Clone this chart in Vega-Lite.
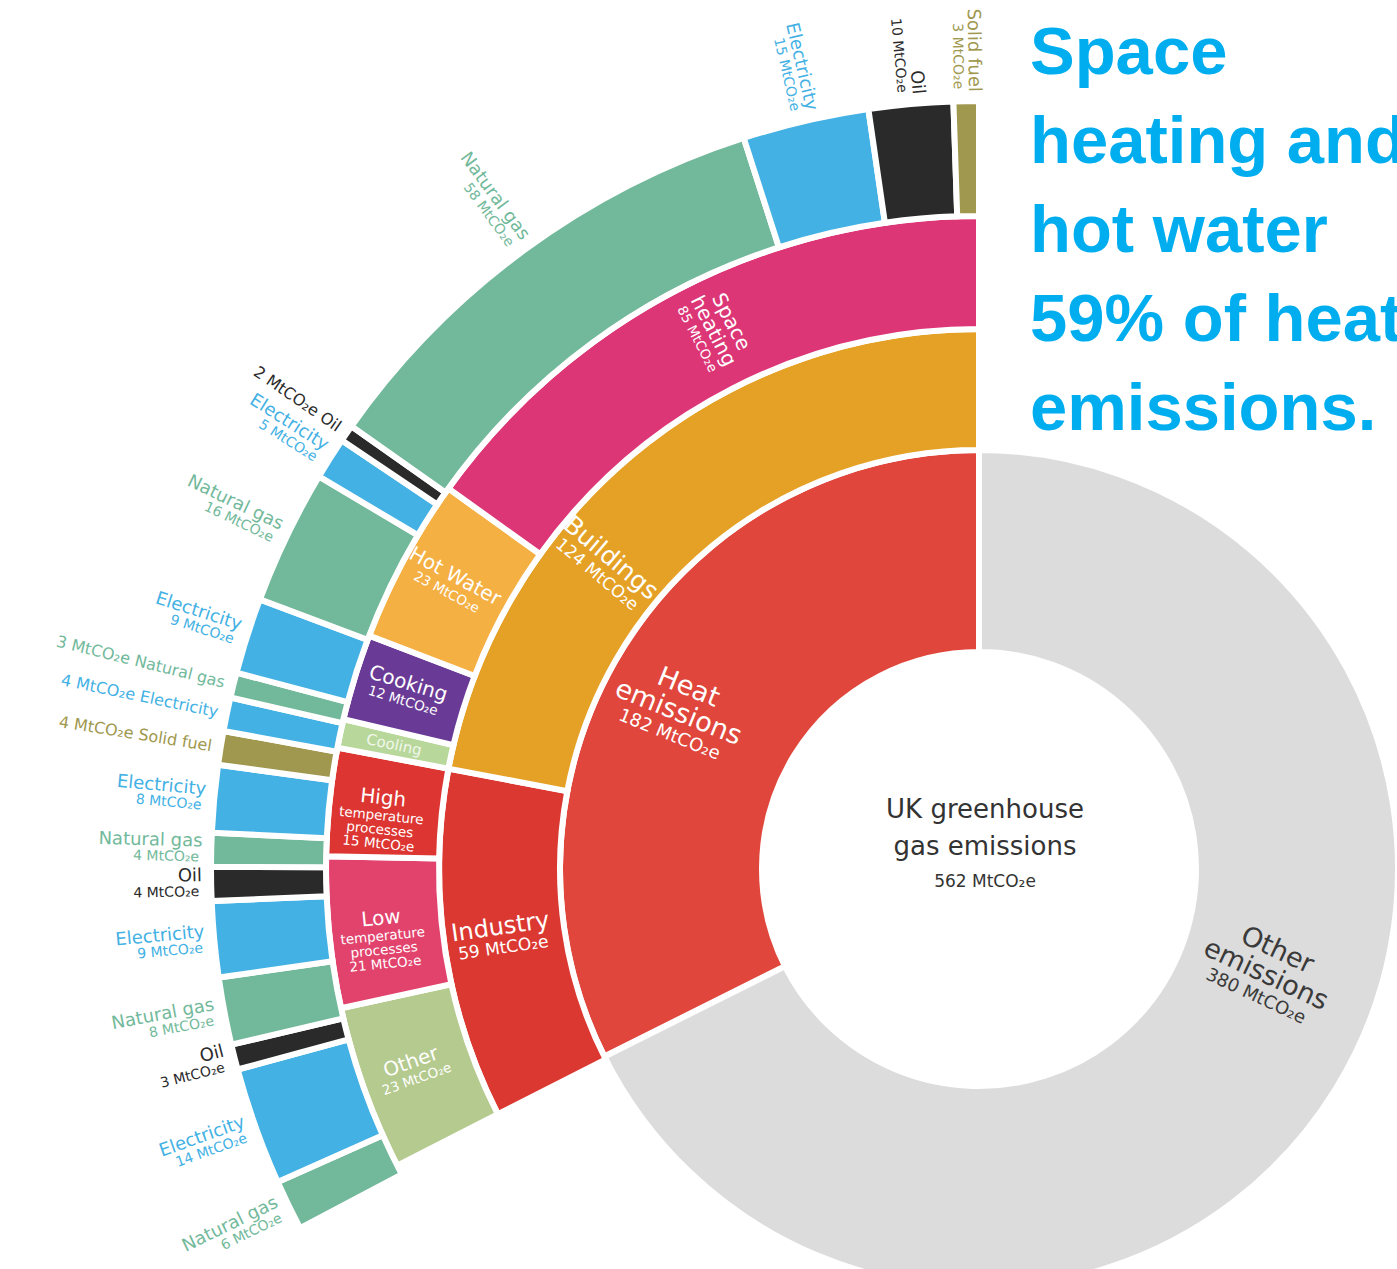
{
  "$schema": "https://vega.github.io/schema/vega-lite/v6.json",
  "width": 836,
  "height": 800,
  "autosize": {"type": "none"},
  "padding": {"left": 561, "top": 469, "right": 0, "bottom": 0},
  "background": "white",
  "config": {"view": {"stroke": null}, "text": {"font": "DejaVu Sans"}},
  "title": {
    "text": ["Space", "heating and", "hot water", "59% of heat", "emissions."],
    "orient": "top",
    "anchor": "start",
    "frame": "group",
    "align": "left",
    "baseline": "alphabetic",
    "font": "Liberation Sans",
    "fontSize": 67,
    "fontWeight": "bold",
    "color": "#00aeef",
    "lineHeight": 89,
    "offset": 0,
    "dx": 469,
    "dy": 489
  },
  "datasets": {
    "emissions": [
      {"ring": 1, "use": "", "name": "Other emissions", "v": 380, "top": "Other\nemissions", "sub": "380 MtCO₂e"},
      {"ring": 1, "use": "", "name": "Heat emissions", "v": 182, "top": "Heat\nemissions", "sub": "182 MtCO₂e"},
      {"ring": 2, "use": "Heat emissions", "name": "Industry", "v": 59, "top": "Industry", "sub": "59 MtCO₂e"},
      {"ring": 2, "use": "Heat emissions", "name": "Buildings", "v": 124, "top": "Buildings", "sub": "124 MtCO₂e"},
      {"ring": 3, "use": "Industry", "name": "Other", "v": 23, "top": "Other", "sub": "23 MtCO₂e"},
      {"ring": 3, "use": "Industry", "name": "Low temperature processes", "v": 21, "top": "Low", "sub": "temperature\nprocesses\n21 MtCO₂e"},
      {"ring": 3, "use": "Industry", "name": "High temperature processes", "v": 15, "top": "High", "sub": "temperature\nprocesses\n15 MtCO₂e"},
      {"ring": 3, "use": "Buildings", "name": "Cooling", "v": 4, "top": "Cooling", "sub": ""},
      {"ring": 3, "use": "Buildings", "name": "Cooking", "v": 12, "top": "Cooking", "sub": "12 MtCO₂e"},
      {"ring": 3, "use": "Buildings", "name": "Hot Water", "v": 23, "top": "Hot Water", "sub": "23 MtCO₂e"},
      {"ring": 3, "use": "Buildings", "name": "Space heating", "v": 85, "top": "Space\nheating", "sub": "85 MtCO₂e"},
      {"ring": 4, "use": "Other", "name": "Natural gas", "v": 6, "top": "Natural gas", "sub": "6 MtCO₂e"},
      {"ring": 4, "use": "Other", "name": "Electricity", "v": 14, "top": "Electricity", "sub": "14 MtCO₂e"},
      {"ring": 4, "use": "Other", "name": "Oil", "v": 3, "top": "Oil", "sub": "3 MtCO₂e"},
      {"ring": 4, "use": "Low temperature processes", "name": "Natural gas", "v": 8, "top": "Natural gas", "sub": "8 MtCO₂e"},
      {"ring": 4, "use": "Low temperature processes", "name": "Electricity", "v": 9, "top": "Electricity", "sub": "9 MtCO₂e"},
      {"ring": 4, "use": "Low temperature processes", "name": "Oil", "v": 4, "top": "Oil", "sub": "4 MtCO₂e"},
      {"ring": 4, "use": "High temperature processes", "name": "Natural gas", "v": 4, "top": "Natural gas", "sub": "4 MtCO₂e"},
      {"ring": 4, "use": "High temperature processes", "name": "Electricity", "v": 8, "top": "Electricity", "sub": "8 MtCO₂e"},
      {"ring": 4, "use": "High temperature processes", "name": "Solid fuel", "v": 4, "top": "4 MtCO₂e  Solid fuel", "sub": ""},
      {"ring": 4, "use": "Cooling", "name": "Electricity", "v": 4, "top": "4 MtCO₂e  Electricity", "sub": ""},
      {"ring": 4, "use": "Cooking", "name": "Natural gas", "v": 3, "top": "3 MtCO₂e  Natural gas", "sub": ""},
      {"ring": 4, "use": "Cooking", "name": "Electricity", "v": 9, "top": "Electricity", "sub": "9 MtCO₂e"},
      {"ring": 4, "use": "Hot Water", "name": "Natural gas", "v": 16, "top": "Natural gas", "sub": "16 MtCO₂e"},
      {"ring": 4, "use": "Hot Water", "name": "Electricity", "v": 5, "top": "Electricity", "sub": "5 MtCO₂e"},
      {"ring": 4, "use": "Hot Water", "name": "Oil", "v": 2, "top": "2 MtCO₂e  Oil", "sub": ""},
      {"ring": 4, "use": "Space heating", "name": "Natural gas", "v": 58, "top": "Natural gas", "sub": "58 MtCO₂e"},
      {"ring": 4, "use": "Space heating", "name": "Electricity", "v": 15, "top": "Electricity", "sub": "15 MtCO₂e"},
      {"ring": 4, "use": "Space heating", "name": "Oil", "v": 10, "top": "Oil", "sub": "10 MtCO₂e"},
      {"ring": 4, "use": "Space heating", "name": "Solid fuel", "v": 3, "top": "Solid fuel", "sub": "3 MtCO₂e"}
    ]
  },
  "data": {"name": "emissions"},
  "resolve": {"scale": {"theta": "independent", "angle": "independent"}},
  "layer": [
    {
      "transform": [
        {"filter": "datum.ring === 1"},
        {"window": [{"op": "row_number", "as": "k"}]},
        {"stack": "v", "groupby": [], "sort": [{"field": "k", "order": "ascending"}], "as": ["s0", "s1"]},
        {"calculate": "(datum.s0 + datum.s1) / 2", "as": "mid"}
      ],
      "layer": [
        {
          "mark": {"type": "arc", "innerRadius": 217, "outerRadius": 419, "stroke": "white", "strokeWidth": 6},
          "encoding": {
            "theta": {"field": "s0", "type": "quantitative", "stack": null, "scale": {"domain": [0, 562]}},
            "theta2": {"field": "s1"},
            "color": {
              "field": "name", "type": "nominal", "legend": null,
              "scale": {
                "domain": ["Other emissions", "Heat emissions", "Buildings", "Industry", "Space heating", "Hot Water", "Cooking", "Cooling", "High temperature processes", "Low temperature processes", "Other", "Natural gas", "Electricity", "Oil", "Solid fuel"],
                "range": ["#dcdcdc", "#e0463b", "#e5a125", "#dc3832", "#dd3677", "#f5b043", "#6a3b96", "#b8d79b", "#dd3632", "#e2436d", "#b4ca8e", "#72b99b", "#43b1e4", "#2a2a2a", "#a0984e"]
              }
            }
          }
        },
        {
          "transform": [{"filter": "datum.name === 'Heat emissions'"}],
          "layer": [
            {
              "mark": {"type": "text", "radius": 338, "thetaOffset": -0.11, "angle": 22, "align": "center", "baseline": "bottom", "fontSize": 27, "lineHeight": 27, "lineBreak": "\n", "color": "white", "dy": -25},
              "encoding": {"theta": {"field": "mid", "type": "quantitative", "stack": null, "scale": {"domain": [0, 562]}}, "text": {"field": "top"}}
            },
            {
              "mark": {"type": "text", "radius": 338, "thetaOffset": -0.11, "angle": 22, "align": "center", "baseline": "top", "fontSize": 18, "dy": 3, "color": "white"},
              "encoding": {"theta": {"field": "mid", "type": "quantitative", "stack": null, "scale": {"domain": [0, 562]}}, "text": {"field": "sub"}}
            }
          ]
        },
        {
          "transform": [{"filter": "datum.name === 'Other emissions'"}],
          "layer": [
            {
              "mark": {"type": "text", "radius": 305, "thetaOffset": -0.16, "angle": 25, "align": "center", "baseline": "bottom", "fontSize": 27, "lineHeight": 27, "lineBreak": "\n", "color": "#3a3a3a", "dy": -25},
              "encoding": {"theta": {"field": "mid", "type": "quantitative", "stack": null, "scale": {"domain": [0, 562]}}, "text": {"field": "top"}}
            },
            {
              "mark": {"type": "text", "radius": 305, "thetaOffset": -0.16, "angle": 25, "align": "center", "baseline": "top", "fontSize": 18, "dy": 3, "color": "#3a3a3a"},
              "encoding": {"theta": {"field": "mid", "type": "quantitative", "stack": null, "scale": {"domain": [0, 562]}}, "text": {"field": "sub"}}
            }
          ]
        },
        {
          "transform": [
            {"aggregate": [{"op": "sum", "field": "v", "as": "total"}]},
            {"calculate": "format(datum.total, 'd') + ' MtCO₂e'", "as": "lbl"}
          ],
          "layer": [
            {
              "mark": {"type": "text", "radius": 0, "align": "center", "baseline": "bottom", "fontSize": 26, "lineHeight": 37, "color": "#333333", "dy": -46, "dx": 6},
              "encoding": {"theta": {"value": 0}, "text": {"value": ["UK greenhouse", "gas emissions"]}}
            },
            {
              "mark": {"type": "text", "radius": 0, "align": "center", "baseline": "top", "fontSize": 17, "color": "#333333", "dy": 5, "dx": 6},
              "encoding": {"theta": {"value": 0}, "text": {"field": "lbl"}}
            }
          ]
        }
      ]
    },
    {
      "transform": [
        {"filter": "datum.ring === 2"},
        {"window": [{"op": "row_number", "as": "k"}]},
        {"stack": "v", "groupby": [], "sort": [{"field": "k", "order": "ascending"}], "as": ["s0", "s1"]},
        {"calculate": "(datum.s0 + datum.s1) / 2", "as": "mid"}
      ],
      "layer": [
        {
          "mark": {"type": "arc", "innerRadius": 419, "outerRadius": 540, "stroke": "white", "strokeWidth": 6},
          "encoding": {
            "theta": {"field": "s0", "type": "quantitative", "stack": null, "scale": {"domain": [-380, 183]}},
            "theta2": {"field": "s1"},
            "color": {"field": "name", "type": "nominal", "legend": null}
          }
        },
        {
          "transform": [{"filter": "datum.name === 'Industry'"}],
          "layer": [
            {
              "mark": {"type": "text", "radius": 482, "align": "center", "baseline": "bottom", "fontSize": 24, "color": "white", "dy": 2},
              "encoding": {
                "theta": {"field": "mid", "type": "quantitative", "stack": null, "scale": {"domain": [-380, 183]}},
                "angle": {"field": "mid", "type": "quantitative", "scale": {"domain": [-380, 183], "range": [-270, 90]}},
                "text": {"field": "top"}
              }
            },
            {
              "mark": {"type": "text", "radius": 482, "align": "center", "baseline": "top", "fontSize": 17, "color": "white", "dy": 3},
              "encoding": {
                "theta": {"field": "mid", "type": "quantitative", "stack": null, "scale": {"domain": [-380, 183]}},
                "angle": {"field": "mid", "type": "quantitative", "scale": {"domain": [-380, 183], "range": [-270, 90]}},
                "text": {"field": "sub"}
              }
            }
          ]
        },
        {
          "transform": [{"filter": "datum.name === 'Buildings'"}],
          "layer": [
            {
              "mark": {"type": "text", "radius": 482, "thetaOffset": -0.2, "angle": 40, "align": "center", "baseline": "bottom", "fontSize": 25, "color": "white", "dy": 2},
              "encoding": {"theta": {"field": "mid", "type": "quantitative", "stack": null, "scale": {"domain": [-380, 183]}}, "text": {"field": "top"}}
            },
            {
              "mark": {"type": "text", "radius": 482, "thetaOffset": -0.2, "angle": 40, "align": "center", "baseline": "top", "fontSize": 17, "color": "white", "dy": 3},
              "encoding": {"theta": {"field": "mid", "type": "quantitative", "stack": null, "scale": {"domain": [-380, 183]}}, "text": {"field": "sub"}}
            }
          ]
        }
      ]
    },
    {
      "transform": [
        {"filter": "datum.ring === 3"},
        {"window": [{"op": "row_number", "as": "k"}]},
        {"stack": "v", "groupby": [], "sort": [{"field": "k", "order": "ascending"}], "as": ["s0", "s1"]},
        {"calculate": "(datum.s0 + datum.s1) / 2", "as": "mid"}
      ],
      "layer": [
        {
          "mark": {"type": "arc", "innerRadius": 540, "outerRadius": 653, "stroke": "white", "strokeWidth": 6},
          "encoding": {
            "theta": {"field": "s0", "type": "quantitative", "stack": null, "scale": {"domain": [-380, 183]}},
            "theta2": {"field": "s1"},
            "color": {"field": "name", "type": "nominal", "legend": null}
          }
        },
        {
          "transform": [{"filter": "datum.sub !== '' && indexof(datum.top, '\\n') < 0"}],
          "mark": {"type": "text", "radius": 600, "align": "center", "baseline": "bottom", "fontSize": 20, "color": "white", "dy": 1},
          "encoding": {
            "theta": {"field": "mid", "type": "quantitative", "stack": null, "scale": {"domain": [-380, 183]}},
            "angle": {"field": "mid", "type": "quantitative", "scale": {"domain": [-380, 183], "range": [-270, 90]}},
            "text": {"field": "top"}
          }
        },
        {
          "transform": [{"filter": "indexof(datum.top, '\\n') >= 0"}],
          "mark": {"type": "text", "radius": 600, "align": "center", "baseline": "bottom", "fontSize": 20, "lineHeight": 20, "lineBreak": "\n", "color": "white", "dy": -19},
          "encoding": {
            "theta": {"field": "mid", "type": "quantitative", "stack": null, "scale": {"domain": [-380, 183]}},
            "angle": {"field": "mid", "type": "quantitative", "scale": {"domain": [-380, 183], "range": [-270, 90]}},
            "text": {"field": "top"}
          }
        },
        {
          "transform": [{"filter": "datum.sub !== ''"}],
          "mark": {"type": "text", "radius": 600, "align": "center", "baseline": "top", "fontSize": 13.5, "lineHeight": 14, "lineBreak": "\n", "color": "white", "dy": 2},
          "encoding": {
            "theta": {"field": "mid", "type": "quantitative", "stack": null, "scale": {"domain": [-380, 183]}},
            "angle": {"field": "mid", "type": "quantitative", "scale": {"domain": [-380, 183], "range": [-270, 90]}},
            "text": {"field": "sub"}
          }
        },
        {
          "transform": [{"filter": "datum.sub === ''"}],
          "mark": {"type": "text", "radius": 598, "align": "center", "baseline": "middle", "fontSize": 15, "color": "#f2f7ec"},
          "encoding": {
            "theta": {"field": "mid", "type": "quantitative", "stack": null, "scale": {"domain": [-380, 183]}},
            "angle": {"field": "mid", "type": "quantitative", "scale": {"domain": [-380, 183], "range": [-270, 90]}},
            "text": {"field": "top"}
          }
        }
      ]
    },
    {
      "transform": [
        {"filter": "datum.ring === 4"},
        {"window": [{"op": "row_number", "as": "k"}]},
        {"stack": "v", "groupby": [], "sort": [{"field": "k", "order": "ascending"}], "as": ["s0", "s1"]},
        {"calculate": "(datum.s0 + datum.s1) / 2", "as": "mid"}
      ],
      "layer": [
        {
          "mark": {"type": "arc", "innerRadius": 653, "outerRadius": 768, "stroke": "white", "strokeWidth": 6},
          "encoding": {
            "theta": {"field": "s0", "type": "quantitative", "stack": null, "scale": {"domain": [-380, 185]}},
            "theta2": {"field": "s1"},
            "color": {"field": "name", "type": "nominal", "legend": null}
          }
        },
        {
          "transform": [{"filter": "datum.sub !== ''"}],
          "layer": [
            {
              "mark": {"type": "text", "radius": 777, "align": "right", "baseline": "bottom", "fontSize": 18, "dy": 1},
              "encoding": {
                "theta": {"field": "mid", "type": "quantitative", "stack": null, "scale": {"domain": [-380, 185]}},
                "angle": {"field": "mid", "type": "quantitative", "scale": {"domain": [-380, 185], "range": [-270, 90]}},
                "text": {"field": "top"},
                "color": {"field": "name", "type": "nominal", "legend": null}
              }
            },
            {
              "mark": {"type": "text", "radius": 780, "align": "right", "baseline": "top", "fontSize": 14, "dy": 1},
              "encoding": {
                "theta": {"field": "mid", "type": "quantitative", "stack": null, "scale": {"domain": [-380, 185]}},
                "angle": {"field": "mid", "type": "quantitative", "scale": {"domain": [-380, 185], "range": [-270, 90]}},
                "text": {"field": "sub"},
                "color": {"field": "name", "type": "nominal", "legend": null}
              }
            }
          ]
        },
        {
          "transform": [{"filter": "datum.sub === ''"}],
          "mark": {"type": "text", "radius": 777, "align": "right", "baseline": "middle", "fontSize": 16},
          "encoding": {
            "theta": {"field": "mid", "type": "quantitative", "stack": null, "scale": {"domain": [-380, 185]}},
            "angle": {"field": "mid", "type": "quantitative", "scale": {"domain": [-380, 185], "range": [-270, 90]}},
            "text": {"field": "top"},
            "color": {"field": "name", "type": "nominal", "legend": null}
          }
        }
      ]
    }
  ]
}
